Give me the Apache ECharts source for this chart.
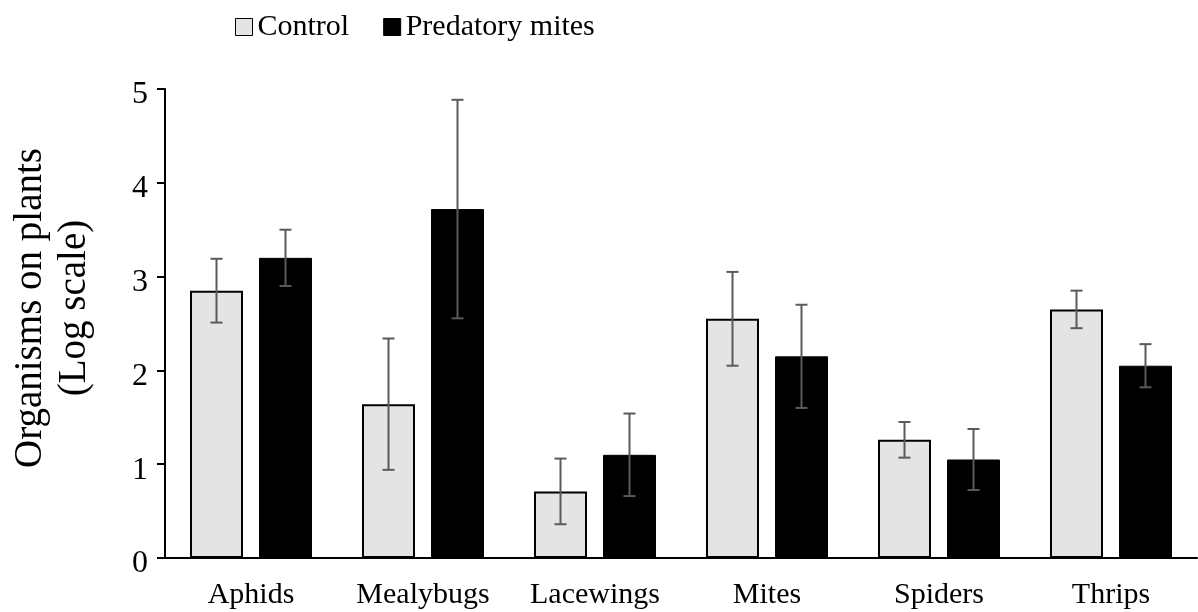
<!DOCTYPE html>
<html>
<head>
<meta charset="utf-8">
<script src="https://cdn.jsdelivr.net/npm/echarts@6/dist/echarts.min.js"></script>
<style>
html,body{margin:0;padding:0;background:#fff;}
#chart{width:1198px;height:612px;}
</style>
</head>
<body>
<div id="chart"></div>
<script>
const categories = ['Aphids', 'Mealybugs', 'Lacewings', 'Mites', 'Spiders', 'Thrips'];
const controlValues = [2.85, 1.64, 0.71, 2.55, 1.26, 2.65];
const controlErrors = [0.34, 0.70, 0.35, 0.50, 0.19, 0.20];
const predatoryValues = [3.20, 3.72, 1.10, 2.15, 1.05, 2.05];
const predatoryErrors = [0.30, 1.165, 0.44, 0.55, 0.325, 0.23];
const yTicks = [0, 1, 2, 3, 4, 5];
const seriesNames = ['Control', 'Predatory mites'];
const yTitleLines = ['Organisms on plants', '(Log scale)'];

const FONT = '"Liberation Serif", "Times New Roman", serif';
const BAR_W = 53;
const GAP = 16;
const OFFSET = (BAR_W + GAP) / 2;

function errorSeries(values, errors, side) {
  return {
    type: 'custom',
    silent: true,
    z: 5,
    data: values.map((v, i) => [i, v - errors[i], v + errors[i]]),
    renderItem: function (params, api) {
      const i = api.value(0);
      const lo = api.coord([i, api.value(1)]);
      const hi = api.coord([i, api.value(2)]);
      const x = lo[0] + side * OFFSET;
      const cap = 6;
      const style = { stroke: '#5a5a5a', lineWidth: 2 };
      return {
        type: 'group',
        children: [
          { type: 'line', shape: { x1: x, y1: lo[1], x2: x, y2: hi[1] }, style },
          { type: 'line', shape: { x1: x - cap, y1: lo[1], x2: x + cap, y2: lo[1] }, style },
          { type: 'line', shape: { x1: x - cap, y1: hi[1], x2: x + cap, y2: hi[1] }, style }
        ]
      };
    }
  };
}

const chart = echarts.init(document.getElementById('chart'), null, { renderer: 'canvas' });
chart.setOption({
  animation: false,
  backgroundColor: '#ffffff',
  textStyle: { fontFamily: FONT },
  grid: { left: 165, right: 1, top: 89, bottom: 54, containLabel: false },
  legend: {
    left: 230, top: 7,
    itemWidth: 17, itemHeight: 17, itemGap: 34,
    textStyle: { fontFamily: FONT, fontSize: 30, color: '#000' },
    data: [
      { name: seriesNames[0], icon: 'rect', itemStyle: { color: '#e4e4e4', borderColor: '#000', borderWidth: 1 } },
      { name: seriesNames[1], icon: 'rect', itemStyle: { color: '#000', borderColor: '#000', borderWidth: 1 } }
    ]
  },
  xAxis: {
    type: 'category',
    data: categories,
    axisLine: { lineStyle: { color: '#000', width: 2 } },
    axisTick: { show: false },
    axisLabel: { interval: 0, hideOverlap: false, fontFamily: FONT, fontSize: 30, color: '#000', margin: 22 },
    splitLine: { show: false }
  },
  yAxis: {
    type: 'value',
    min: yTicks[0], max: yTicks[yTicks.length - 1], interval: 1,
    axisLine: { show: true, lineStyle: { color: '#000', width: 2 } },
    axisTick: { show: true, length: 8, lineStyle: { color: '#000', width: 2 } },
    axisLabel: { fontFamily: FONT, fontSize: 32, color: '#000', margin: 17, verticalAlign: 'top', lineHeight: 12 },
    splitLine: { show: false }
  },
  graphic: [{
    type: 'text',
    x: 53, y: 308,
    rotation: Math.PI / 2,
    style: {
      text: yTitleLines.join('\n'),
      font: '39px ' + FONT,
      fill: '#000',
      align: 'center',
      verticalAlign: 'middle',
      lineHeight: 44
    }
  }],
  series: [
    {
      name: seriesNames[0], type: 'bar', data: controlValues,
      barWidth: BAR_W, barGap: (GAP / BAR_W * 100).toFixed(1) + '%',
      itemStyle: { color: '#e4e4e4', borderColor: '#000', borderWidth: 2 }
    },
    {
      name: seriesNames[1], type: 'bar', data: predatoryValues,
      barWidth: BAR_W,
      itemStyle: { color: '#000', borderColor: '#000', borderWidth: 1 }
    },
    errorSeries(controlValues, controlErrors, -1),
    errorSeries(predatoryValues, predatoryErrors, 1)
  ]
});
</script>
</body>
</html>
